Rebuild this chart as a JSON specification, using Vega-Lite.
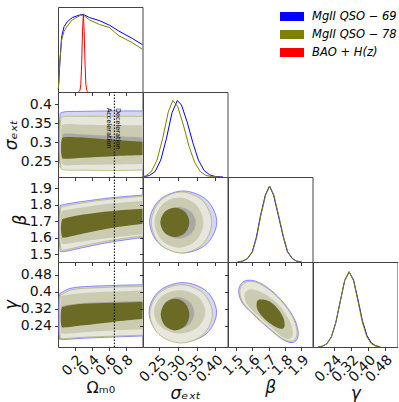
{
"$schema":"https://vega.github.io/schema/vega-lite/v6.json",
"padding":{"left":1,"top":6,"right":0,"bottom":0},
"bounds":"flush","spacing":0,"columns":4,
"config":{"view":{"stroke":"#444","strokeWidth":1},"axis":{"grid":false,"domain":false,"tickSize":3.5,"tickColor":"#222","tickWidth":0.9,"labelFont":"DejaVu Sans","labelFontSize":14,"labelColor":"#111","titleFont":"DejaVu Sans","titleFontSize":17,"titleFontWeight":"normal","titleColor":"#111","labelOverlap":false,"labelFlush":false,"labelBound":false,"labelPadding":3},"axisBottom":{"titlePadding":1,"labelPadding":2},"axisLeft":{"titlePadding":0}},
"datasets":{
"c":[
{"p":"A","l":1,"i":0,"x":0.06,"y":0.379},{"p":"A","l":1,"i":1,"x":0.3,"y":0.381},{"p":"A","l":1,"i":2,"x":0.65,"y":0.382},{"p":"A","l":1,"i":3,"x":1.15,"y":0.382},{"p":"A","l":1,"i":4,"x":1.3,"y":0.382},{"p":"A","l":1,"i":5,"x":1.3,"y":0.235},{"p":"A","l":1,"i":6,"x":1.15,"y":0.235},{"p":"A","l":1,"i":7,"x":0.65,"y":0.234},{"p":"A","l":1,"i":8,"x":0.3,"y":0.233},{"p":"A","l":1,"i":9,"x":0.06,"y":0.232},{"p":"A","l":1,"i":10,"x":0.022,"y":0.245},{"p":"A","l":1,"i":11,"x":0.014,"y":0.305},{"p":"A","l":1,"i":12,"x":0.022,"y":0.365},
{"p":"A","l":2,"i":0,"x":0.07,"y":0.367},{"p":"A","l":2,"i":1,"x":0.3,"y":0.368},{"p":"A","l":2,"i":2,"x":0.65,"y":0.368},{"p":"A","l":2,"i":3,"x":1.15,"y":0.368},{"p":"A","l":2,"i":4,"x":1.3,"y":0.368},{"p":"A","l":2,"i":5,"x":1.3,"y":0.227},{"p":"A","l":2,"i":6,"x":1.15,"y":0.227},{"p":"A","l":2,"i":7,"x":0.65,"y":0.225},{"p":"A","l":2,"i":8,"x":0.3,"y":0.226},{"p":"A","l":2,"i":9,"x":0.07,"y":0.227},{"p":"A","l":2,"i":10,"x":0.03,"y":0.24},{"p":"A","l":2,"i":11,"x":0.022,"y":0.298},{"p":"A","l":2,"i":12,"x":0.03,"y":0.355},
{"p":"A","l":3,"i":0,"x":0.08,"y":0.347},{"p":"A","l":3,"i":1,"x":0.3,"y":0.346},{"p":"A","l":3,"i":2,"x":0.65,"y":0.345},{"p":"A","l":3,"i":3,"x":1.15,"y":0.344},{"p":"A","l":3,"i":4,"x":1.3,"y":0.344},{"p":"A","l":3,"i":5,"x":1.3,"y":0.243},{"p":"A","l":3,"i":6,"x":1.15,"y":0.243},{"p":"A","l":3,"i":7,"x":0.65,"y":0.241},{"p":"A","l":3,"i":8,"x":0.3,"y":0.24},{"p":"A","l":3,"i":9,"x":0.08,"y":0.239},{"p":"A","l":3,"i":10,"x":0.04,"y":0.25},{"p":"A","l":3,"i":11,"x":0.03,"y":0.293},{"p":"A","l":3,"i":12,"x":0.04,"y":0.337},
{"p":"A","l":4,"i":0,"x":0.08,"y":0.322},{"p":"A","l":4,"i":1,"x":0.3,"y":0.32},{"p":"A","l":4,"i":2,"x":0.65,"y":0.316},{"p":"A","l":4,"i":3,"x":1.15,"y":0.311},{"p":"A","l":4,"i":4,"x":1.3,"y":0.31},{"p":"A","l":4,"i":5,"x":1.3,"y":0.28},{"p":"A","l":4,"i":6,"x":1.15,"y":0.28},{"p":"A","l":4,"i":7,"x":0.65,"y":0.28},{"p":"A","l":4,"i":8,"x":0.3,"y":0.28},{"p":"A","l":4,"i":9,"x":0.08,"y":0.28},{"p":"A","l":4,"i":10,"x":0.05,"y":0.29},{"p":"A","l":4,"i":11,"x":0.045,"y":0.3},{"p":"A","l":4,"i":12,"x":0.05,"y":0.312},
{"p":"A","l":5,"i":0,"x":0.08,"y":0.313},{"p":"A","l":5,"i":1,"x":0.3,"y":0.312},{"p":"A","l":5,"i":2,"x":0.65,"y":0.306},{"p":"A","l":5,"i":3,"x":1.15,"y":0.299},{"p":"A","l":5,"i":4,"x":1.3,"y":0.298},{"p":"A","l":5,"i":5,"x":1.3,"y":0.267},{"p":"A","l":5,"i":6,"x":1.15,"y":0.267},{"p":"A","l":5,"i":7,"x":0.65,"y":0.263},{"p":"A","l":5,"i":8,"x":0.3,"y":0.259},{"p":"A","l":5,"i":9,"x":0.08,"y":0.256},{"p":"A","l":5,"i":10,"x":0.045,"y":0.262},{"p":"A","l":5,"i":11,"x":0.035,"y":0.285},{"p":"A","l":5,"i":12,"x":0.045,"y":0.307},
{"p":"B","l":1,"i":0,"x":0.06,"y":1.8},{"p":"B","l":1,"i":1,"x":0.3,"y":1.82},{"p":"B","l":1,"i":2,"x":0.65,"y":1.843},{"p":"B","l":1,"i":3,"x":1.15,"y":1.865},{"p":"B","l":1,"i":4,"x":1.3,"y":1.87},{"p":"B","l":1,"i":5,"x":1.3,"y":1.615},{"p":"B","l":1,"i":6,"x":1.15,"y":1.61},{"p":"B","l":1,"i":7,"x":0.65,"y":1.575},{"p":"B","l":1,"i":8,"x":0.3,"y":1.54},{"p":"B","l":1,"i":9,"x":0.06,"y":1.515},{"p":"B","l":1,"i":10,"x":0.022,"y":1.535},{"p":"B","l":1,"i":11,"x":0.014,"y":1.66},{"p":"B","l":1,"i":12,"x":0.022,"y":1.78},
{"p":"B","l":2,"i":0,"x":0.07,"y":1.79},{"p":"B","l":2,"i":1,"x":0.3,"y":1.812},{"p":"B","l":2,"i":2,"x":0.65,"y":1.835},{"p":"B","l":2,"i":3,"x":1.15,"y":1.857},{"p":"B","l":2,"i":4,"x":1.3,"y":1.862},{"p":"B","l":2,"i":5,"x":1.3,"y":1.625},{"p":"B","l":2,"i":6,"x":1.15,"y":1.62},{"p":"B","l":2,"i":7,"x":0.65,"y":1.585},{"p":"B","l":2,"i":8,"x":0.3,"y":1.55},{"p":"B","l":2,"i":9,"x":0.07,"y":1.525},{"p":"B","l":2,"i":10,"x":0.03,"y":1.545},{"p":"B","l":2,"i":11,"x":0.022,"y":1.66},{"p":"B","l":2,"i":12,"x":0.03,"y":1.77},
{"p":"B","l":3,"i":0,"x":0.08,"y":1.766},{"p":"B","l":3,"i":1,"x":0.3,"y":1.785},{"p":"B","l":3,"i":2,"x":0.65,"y":1.808},{"p":"B","l":3,"i":3,"x":1.15,"y":1.83},{"p":"B","l":3,"i":4,"x":1.3,"y":1.835},{"p":"B","l":3,"i":5,"x":1.3,"y":1.635},{"p":"B","l":3,"i":6,"x":1.15,"y":1.628},{"p":"B","l":3,"i":7,"x":0.65,"y":1.6},{"p":"B","l":3,"i":8,"x":0.3,"y":1.578},{"p":"B","l":3,"i":9,"x":0.08,"y":1.562},{"p":"B","l":3,"i":10,"x":0.04,"y":1.58},{"p":"B","l":3,"i":11,"x":0.03,"y":1.665},{"p":"B","l":3,"i":12,"x":0.04,"y":1.75},
{"p":"B","l":5,"i":0,"x":0.08,"y":1.716},{"p":"B","l":5,"i":1,"x":0.3,"y":1.74},{"p":"B","l":5,"i":2,"x":0.65,"y":1.762},{"p":"B","l":5,"i":3,"x":1.15,"y":1.78},{"p":"B","l":5,"i":4,"x":1.3,"y":1.785},{"p":"B","l":5,"i":5,"x":1.3,"y":1.7},{"p":"B","l":5,"i":6,"x":1.15,"y":1.693},{"p":"B","l":5,"i":7,"x":0.65,"y":1.66},{"p":"B","l":5,"i":8,"x":0.3,"y":1.625},{"p":"B","l":5,"i":9,"x":0.08,"y":1.6},{"p":"B","l":5,"i":10,"x":0.045,"y":1.612},{"p":"B","l":5,"i":11,"x":0.035,"y":1.66},{"p":"B","l":5,"i":12,"x":0.045,"y":1.703},
{"p":"C","l":1,"i":0,"x":0.05,"y":0.398},{"p":"C","l":1,"i":1,"x":0.2,"y":0.42},{"p":"C","l":1,"i":2,"x":0.6,"y":0.429},{"p":"C","l":1,"i":3,"x":1.15,"y":0.434},{"p":"C","l":1,"i":4,"x":1.3,"y":0.435},{"p":"C","l":1,"i":5,"x":1.3,"y":0.196},{"p":"C","l":1,"i":6,"x":1.15,"y":0.194},{"p":"C","l":1,"i":7,"x":0.65,"y":0.187},{"p":"C","l":1,"i":8,"x":0.3,"y":0.181},{"p":"C","l":1,"i":9,"x":0.05,"y":0.176},{"p":"C","l":1,"i":10,"x":0.016,"y":0.19},{"p":"C","l":1,"i":11,"x":0.01,"y":0.29},{"p":"C","l":1,"i":12,"x":0.016,"y":0.38},
{"p":"C","l":2,"i":0,"x":0.06,"y":0.39},{"p":"C","l":2,"i":1,"x":0.2,"y":0.412},{"p":"C","l":2,"i":2,"x":0.6,"y":0.421},{"p":"C","l":2,"i":3,"x":1.15,"y":0.426},{"p":"C","l":2,"i":4,"x":1.3,"y":0.427},{"p":"C","l":2,"i":5,"x":1.3,"y":0.2},{"p":"C","l":2,"i":6,"x":1.15,"y":0.198},{"p":"C","l":2,"i":7,"x":0.65,"y":0.191},{"p":"C","l":2,"i":8,"x":0.3,"y":0.186},{"p":"C","l":2,"i":9,"x":0.06,"y":0.18},{"p":"C","l":2,"i":10,"x":0.025,"y":0.195},{"p":"C","l":2,"i":11,"x":0.018,"y":0.29},{"p":"C","l":2,"i":12,"x":0.025,"y":0.375},
{"p":"C","l":3,"i":0,"x":0.07,"y":0.382},{"p":"C","l":3,"i":1,"x":0.3,"y":0.394},{"p":"C","l":3,"i":2,"x":0.65,"y":0.401},{"p":"C","l":3,"i":3,"x":1.15,"y":0.408},{"p":"C","l":3,"i":4,"x":1.3,"y":0.41},{"p":"C","l":3,"i":5,"x":1.3,"y":0.228},{"p":"C","l":3,"i":6,"x":1.15,"y":0.226},{"p":"C","l":3,"i":7,"x":0.65,"y":0.218},{"p":"C","l":3,"i":8,"x":0.3,"y":0.21},{"p":"C","l":3,"i":9,"x":0.07,"y":0.203},{"p":"C","l":3,"i":10,"x":0.035,"y":0.215},{"p":"C","l":3,"i":11,"x":0.028,"y":0.29},{"p":"C","l":3,"i":12,"x":0.035,"y":0.37},
{"p":"C","l":4,"i":0,"x":0.07,"y":0.335},{"p":"C","l":4,"i":1,"x":0.3,"y":0.347},{"p":"C","l":4,"i":2,"x":0.65,"y":0.353},{"p":"C","l":4,"i":3,"x":1.15,"y":0.36},{"p":"C","l":4,"i":4,"x":1.3,"y":0.362},{"p":"C","l":4,"i":5,"x":1.3,"y":0.31},{"p":"C","l":4,"i":6,"x":1.15,"y":0.31},{"p":"C","l":4,"i":7,"x":0.65,"y":0.3},{"p":"C","l":4,"i":8,"x":0.3,"y":0.29},{"p":"C","l":4,"i":9,"x":0.07,"y":0.28},{"p":"C","l":4,"i":10,"x":0.045,"y":0.29},{"p":"C","l":4,"i":11,"x":0.04,"y":0.31},{"p":"C","l":4,"i":12,"x":0.045,"y":0.325},
{"p":"C","l":5,"i":0,"x":0.07,"y":0.33},{"p":"C","l":5,"i":1,"x":0.3,"y":0.343},{"p":"C","l":5,"i":2,"x":0.65,"y":0.348},{"p":"C","l":5,"i":3,"x":1.15,"y":0.354},{"p":"C","l":5,"i":4,"x":1.3,"y":0.356},{"p":"C","l":5,"i":5,"x":1.3,"y":0.282},{"p":"C","l":5,"i":6,"x":1.15,"y":0.278},{"p":"C","l":5,"i":7,"x":0.65,"y":0.258},{"p":"C","l":5,"i":8,"x":0.3,"y":0.242},{"p":"C","l":5,"i":9,"x":0.07,"y":0.232},{"p":"C","l":5,"i":10,"x":0.04,"y":0.24},{"p":"C","l":5,"i":11,"x":0.032,"y":0.28},{"p":"C","l":5,"i":12,"x":0.04,"y":0.318},
{"p":"D","l":1,"i":0,"x":0.4035,"y":1.695},{"p":"D","l":1,"i":1,"x":0.377,"y":1.828},{"p":"D","l":1,"i":2,"x":0.3145,"y":1.883},{"p":"D","l":1,"i":3,"x":0.2515,"y":1.828},{"p":"D","l":1,"i":4,"x":0.2255,"y":1.695},{"p":"D","l":1,"i":5,"x":0.2515,"y":1.562},{"p":"D","l":1,"i":6,"x":0.3145,"y":1.507},{"p":"D","l":1,"i":7,"x":0.377,"y":1.562},
{"p":"D","l":2,"i":0,"x":0.39,"y":1.692},{"p":"D","l":2,"i":1,"x":0.3666,"y":1.8228},{"p":"D","l":2,"i":2,"x":0.31,"y":1.877},{"p":"D","l":2,"i":3,"x":0.2534,"y":1.8228},{"p":"D","l":2,"i":4,"x":0.23,"y":1.692},{"p":"D","l":2,"i":5,"x":0.2534,"y":1.5612},{"p":"D","l":2,"i":6,"x":0.31,"y":1.507},{"p":"D","l":2,"i":7,"x":0.3666,"y":1.5612},
{"p":"D","l":3,"i":0,"x":0.368,"y":1.691},{"p":"D","l":3,"i":1,"x":0.3491,"y":1.7985},{"p":"D","l":3,"i":2,"x":0.3035,"y":1.843},{"p":"D","l":3,"i":3,"x":0.2579,"y":1.7985},{"p":"D","l":3,"i":4,"x":0.239,"y":1.691},{"p":"D","l":3,"i":5,"x":0.2579,"y":1.5835},{"p":"D","l":3,"i":6,"x":0.3035,"y":1.539},{"p":"D","l":3,"i":7,"x":0.3491,"y":1.5835},
{"p":"D","l":4,"i":0,"x":0.348,"y":1.69},{"p":"D","l":4,"i":1,"x":0.3345,"y":1.7579},{"p":"D","l":4,"i":2,"x":0.302,"y":1.786},{"p":"D","l":4,"i":3,"x":0.2695,"y":1.7579},{"p":"D","l":4,"i":4,"x":0.256,"y":1.69},{"p":"D","l":4,"i":5,"x":0.2695,"y":1.6221},{"p":"D","l":4,"i":6,"x":0.302,"y":1.594},{"p":"D","l":4,"i":7,"x":0.3345,"y":1.6221},
{"p":"D","l":5,"i":0,"x":0.331,"y":1.693},{"p":"D","l":5,"i":1,"x":0.3197,"y":1.7559},{"p":"D","l":5,"i":2,"x":0.2925,"y":1.782},{"p":"D","l":5,"i":3,"x":0.2653,"y":1.7559},{"p":"D","l":5,"i":4,"x":0.254,"y":1.693},{"p":"D","l":5,"i":5,"x":0.2653,"y":1.6301},{"p":"D","l":5,"i":6,"x":0.2925,"y":1.604},{"p":"D","l":5,"i":7,"x":0.3197,"y":1.6301},
{"p":"E","l":1,"i":0,"x":0.403,"y":0.303},{"p":"E","l":1,"i":1,"x":0.3768,"y":0.402},{"p":"E","l":1,"i":2,"x":0.3135,"y":0.443},{"p":"E","l":1,"i":3,"x":0.2502,"y":0.402},{"p":"E","l":1,"i":4,"x":0.224,"y":0.303},{"p":"E","l":1,"i":5,"x":0.2502,"y":0.204},{"p":"E","l":1,"i":6,"x":0.3135,"y":0.163},{"p":"E","l":1,"i":7,"x":0.3768,"y":0.204},
{"p":"E","l":2,"i":0,"x":0.392,"y":0.296},{"p":"E","l":2,"i":1,"x":0.3677,"y":0.3929},{"p":"E","l":2,"i":2,"x":0.309,"y":0.433},{"p":"E","l":2,"i":3,"x":0.2503,"y":0.3929},{"p":"E","l":2,"i":4,"x":0.226,"y":0.296},{"p":"E","l":2,"i":5,"x":0.2503,"y":0.1991},{"p":"E","l":2,"i":6,"x":0.309,"y":0.159},{"p":"E","l":2,"i":7,"x":0.3677,"y":0.1991},
{"p":"E","l":3,"i":0,"x":0.373,"y":0.305},{"p":"E","l":3,"i":1,"x":0.3531,"y":0.3771},{"p":"E","l":3,"i":2,"x":0.305,"y":0.407},{"p":"E","l":3,"i":3,"x":0.2569,"y":0.3771},{"p":"E","l":3,"i":4,"x":0.237,"y":0.305},{"p":"E","l":3,"i":5,"x":0.2569,"y":0.2329},{"p":"E","l":3,"i":6,"x":0.305,"y":0.203},{"p":"E","l":3,"i":7,"x":0.3531,"y":0.2329},
{"p":"E","l":4,"i":0,"x":0.344,"y":0.3},{"p":"E","l":4,"i":1,"x":0.3311,"y":0.3527},{"p":"E","l":4,"i":2,"x":0.3,"y":0.3745},{"p":"E","l":4,"i":3,"x":0.2689,"y":0.3527},{"p":"E","l":4,"i":4,"x":0.256,"y":0.3},{"p":"E","l":4,"i":5,"x":0.2689,"y":0.2473},{"p":"E","l":4,"i":6,"x":0.3,"y":0.2255},{"p":"E","l":4,"i":7,"x":0.3311,"y":0.2473},
{"p":"E","l":5,"i":0,"x":0.331,"y":0.2925},{"p":"E","l":5,"i":1,"x":0.3199,"y":0.3452},{"p":"E","l":5,"i":2,"x":0.293,"y":0.367},{"p":"E","l":5,"i":3,"x":0.2661,"y":0.3452},{"p":"E","l":5,"i":4,"x":0.255,"y":0.2925},{"p":"E","l":5,"i":5,"x":0.2661,"y":0.2398},{"p":"E","l":5,"i":6,"x":0.293,"y":0.218},{"p":"E","l":5,"i":7,"x":0.3199,"y":0.2398},
{"p":"F","l":1,"i":0,"x":1.573,"y":0.454},{"p":"F","l":1,"i":1,"x":1.634,"y":0.446},{"p":"F","l":1,"i":2,"x":1.715,"y":0.407},{"p":"F","l":1,"i":3,"x":1.796,"y":0.344},{"p":"F","l":1,"i":4,"x":1.857,"y":0.273},{"p":"F","l":1,"i":5,"x":1.881,"y":0.203},{"p":"F","l":1,"i":6,"x":1.857,"y":0.163},{"p":"F","l":1,"i":7,"x":1.796,"y":0.171},{"p":"F","l":1,"i":8,"x":1.715,"y":0.218},{"p":"F","l":1,"i":9,"x":1.624,"y":0.281},{"p":"F","l":1,"i":10,"x":1.543,"y":0.344},{"p":"F","l":1,"i":11,"x":1.517,"y":0.399},{"p":"F","l":1,"i":12,"x":1.533,"y":0.438},
{"p":"F","l":2,"i":0,"x":1.578,"y":0.448},{"p":"F","l":2,"i":1,"x":1.636,"y":0.441},{"p":"F","l":2,"i":2,"x":1.714,"y":0.403},{"p":"F","l":2,"i":3,"x":1.792,"y":0.343},{"p":"F","l":2,"i":4,"x":1.851,"y":0.274},{"p":"F","l":2,"i":5,"x":1.874,"y":0.207},{"p":"F","l":2,"i":6,"x":1.851,"y":0.169},{"p":"F","l":2,"i":7,"x":1.792,"y":0.176},{"p":"F","l":2,"i":8,"x":1.714,"y":0.222},{"p":"F","l":2,"i":9,"x":1.627,"y":0.282},{"p":"F","l":2,"i":10,"x":1.549,"y":0.343},{"p":"F","l":2,"i":11,"x":1.524,"y":0.395},{"p":"F","l":2,"i":12,"x":1.54,"y":0.433},
{"p":"F","l":3,"i":0,"x":1.604,"y":0.411},{"p":"F","l":3,"i":1,"x":1.675,"y":0.391},{"p":"F","l":3,"i":2,"x":1.756,"y":0.344},{"p":"F","l":3,"i":3,"x":1.816,"y":0.281},{"p":"F","l":3,"i":4,"x":1.847,"y":0.218},{"p":"F","l":3,"i":5,"x":1.837,"y":0.182},{"p":"F","l":3,"i":6,"x":1.796,"y":0.182},{"p":"F","l":3,"i":7,"x":1.725,"y":0.226},{"p":"F","l":3,"i":8,"x":1.644,"y":0.281},{"p":"F","l":3,"i":9,"x":1.573,"y":0.336},{"p":"F","l":3,"i":10,"x":1.553,"y":0.375},{"p":"F","l":3,"i":11,"x":1.563,"y":0.402},
{"p":"F","l":5,"i":0,"x":1.654,"y":0.364},{"p":"F","l":5,"i":1,"x":1.705,"y":0.355},{"p":"F","l":5,"i":2,"x":1.756,"y":0.32},{"p":"F","l":5,"i":3,"x":1.792,"y":0.273},{"p":"F","l":5,"i":4,"x":1.796,"y":0.234},{"p":"F","l":5,"i":5,"x":1.772,"y":0.226},{"p":"F","l":5,"i":6,"x":1.725,"y":0.242},{"p":"F","l":5,"i":7,"x":1.664,"y":0.281},{"p":"F","l":5,"i":8,"x":1.63,"y":0.32},{"p":"F","l":5,"i":9,"x":1.63,"y":0.355}
],
"d":[
{"p":"O","s":"MgII QSO − 69","x":0.004,"y":0.026},{"p":"O","s":"MgII QSO − 69","x":0.024,"y":0.41},{"p":"O","s":"MgII QSO − 69","x":0.043,"y":0.71},{"p":"O","s":"MgII QSO − 69","x":0.071,"y":0.84},{"p":"O","s":"MgII QSO − 69","x":0.11,"y":0.905},{"p":"O","s":"MgII QSO − 69","x":0.17,"y":0.96},{"p":"O","s":"MgII QSO − 69","x":0.25,"y":0.99},{"p":"O","s":"MgII QSO − 69","x":0.3,"y":1.0},{"p":"O","s":"MgII QSO − 69","x":0.37,"y":0.96},{"p":"O","s":"MgII QSO − 69","x":0.49,"y":0.92},{"p":"O","s":"MgII QSO − 69","x":0.61,"y":0.86},{"p":"O","s":"MgII QSO − 69","x":0.72,"y":0.785},{"p":"O","s":"MgII QSO − 69","x":0.88,"y":0.69},{"p":"O","s":"MgII QSO − 69","x":1.0,"y":0.61},
{"p":"O","s":"MgII QSO − 78","x":0.004,"y":0.04},{"p":"O","s":"MgII QSO − 78","x":0.02,"y":0.37},{"p":"O","s":"MgII QSO − 78","x":0.043,"y":0.67},{"p":"O","s":"MgII QSO − 78","x":0.071,"y":0.78},{"p":"O","s":"MgII QSO − 78","x":0.11,"y":0.85},{"p":"O","s":"MgII QSO − 78","x":0.17,"y":0.93},{"p":"O","s":"MgII QSO − 78","x":0.27,"y":0.99},{"p":"O","s":"MgII QSO − 78","x":0.3,"y":0.99},{"p":"O","s":"MgII QSO − 78","x":0.37,"y":0.93},{"p":"O","s":"MgII QSO − 78","x":0.49,"y":0.87},{"p":"O","s":"MgII QSO − 78","x":0.61,"y":0.83},{"p":"O","s":"MgII QSO − 78","x":0.67,"y":0.77},{"p":"O","s":"MgII QSO − 78","x":0.72,"y":0.725},{"p":"O","s":"MgII QSO − 78","x":0.88,"y":0.635},{"p":"O","s":"MgII QSO − 78","x":1.0,"y":0.55},
{"p":"O","s":"BAO + H(z)","x":0.24,"y":0},{"p":"O","s":"BAO + H(z)","x":0.26,"y":0.02},{"p":"O","s":"BAO + H(z)","x":0.27,"y":0.1},{"p":"O","s":"BAO + H(z)","x":0.28,"y":0.36},{"p":"O","s":"BAO + H(z)","x":0.29,"y":0.775},{"p":"O","s":"BAO + H(z)","x":0.3,"y":1.0},{"p":"O","s":"BAO + H(z)","x":0.31,"y":0.775},{"p":"O","s":"BAO + H(z)","x":0.32,"y":0.36},{"p":"O","s":"BAO + H(z)","x":0.33,"y":0.1},{"p":"O","s":"BAO + H(z)","x":0.34,"y":0.02},{"p":"O","s":"BAO + H(z)","x":0.36,"y":0},
{"p":"S","s":"MgII QSO − 69","x":0.21,"y":0.003},{"p":"S","s":"MgII QSO − 69","x":0.225,"y":0.02},{"p":"S","s":"MgII QSO − 69","x":0.24,"y":0.07},{"p":"S","s":"MgII QSO − 69","x":0.255,"y":0.22},{"p":"S","s":"MgII QSO − 69","x":0.27,"y":0.5},{"p":"S","s":"MgII QSO − 69","x":0.285,"y":0.84},{"p":"S","s":"MgII QSO − 69","x":0.299,"y":1.0},{"p":"S","s":"MgII QSO − 69","x":0.31,"y":0.94},{"p":"S","s":"MgII QSO − 69","x":0.325,"y":0.72},{"p":"S","s":"MgII QSO − 69","x":0.34,"y":0.45},{"p":"S","s":"MgII QSO − 69","x":0.355,"y":0.22},{"p":"S","s":"MgII QSO − 69","x":0.37,"y":0.085},{"p":"S","s":"MgII QSO − 69","x":0.385,"y":0.027},{"p":"S","s":"MgII QSO − 69","x":0.4,"y":0.006},{"p":"S","s":"MgII QSO − 69","x":0.42,"y":0},
{"p":"S","s":"MgII QSO − 78","x":0.205,"y":0.004},{"p":"S","s":"MgII QSO − 78","x":0.215,"y":0.015},{"p":"S","s":"MgII QSO − 78","x":0.23,"y":0.07},{"p":"S","s":"MgII QSO − 78","x":0.245,"y":0.22},{"p":"S","s":"MgII QSO − 78","x":0.26,"y":0.5},{"p":"S","s":"MgII QSO − 78","x":0.275,"y":0.85},{"p":"S","s":"MgII QSO − 78","x":0.287,"y":1.0},{"p":"S","s":"MgII QSO − 78","x":0.3,"y":0.92},{"p":"S","s":"MgII QSO − 78","x":0.315,"y":0.68},{"p":"S","s":"MgII QSO − 78","x":0.33,"y":0.4},{"p":"S","s":"MgII QSO − 78","x":0.345,"y":0.19},{"p":"S","s":"MgII QSO − 78","x":0.36,"y":0.07},{"p":"S","s":"MgII QSO − 78","x":0.375,"y":0.02},{"p":"S","s":"MgII QSO − 78","x":0.39,"y":0.005},{"p":"S","s":"MgII QSO − 78","x":0.41,"y":0},
{"p":"B","s":"MgII QSO − 69","x":1.51,"y":0.002},{"p":"B","s":"MgII QSO − 69","x":1.54,"y":0.011},{"p":"B","s":"MgII QSO − 69","x":1.57,"y":0.044},{"p":"B","s":"MgII QSO − 69","x":1.6,"y":0.135},{"p":"B","s":"MgII QSO − 69","x":1.625,"y":0.325},{"p":"B","s":"MgII QSO − 69","x":1.65,"y":0.607},{"p":"B","s":"MgII QSO − 69","x":1.68,"y":0.883},{"p":"B","s":"MgII QSO − 69","x":1.705,"y":1.0},{"p":"B","s":"MgII QSO − 69","x":1.73,"y":0.883},{"p":"B","s":"MgII QSO − 69","x":1.76,"y":0.607},{"p":"B","s":"MgII QSO − 69","x":1.79,"y":0.325},{"p":"B","s":"MgII QSO − 69","x":1.815,"y":0.135},{"p":"B","s":"MgII QSO − 69","x":1.845,"y":0.044},{"p":"B","s":"MgII QSO − 69","x":1.87,"y":0.011},{"p":"B","s":"MgII QSO − 69","x":1.9,"y":0.002},
{"p":"B","s":"MgII QSO − 78","x":1.512,"y":0.002},{"p":"B","s":"MgII QSO − 78","x":1.542,"y":0.011},{"p":"B","s":"MgII QSO − 78","x":1.572,"y":0.044},{"p":"B","s":"MgII QSO − 78","x":1.602,"y":0.135},{"p":"B","s":"MgII QSO − 78","x":1.627,"y":0.325},{"p":"B","s":"MgII QSO − 78","x":1.652,"y":0.607},{"p":"B","s":"MgII QSO − 78","x":1.682,"y":0.883},{"p":"B","s":"MgII QSO − 78","x":1.707,"y":1.0},{"p":"B","s":"MgII QSO − 78","x":1.732,"y":0.883},{"p":"B","s":"MgII QSO − 78","x":1.762,"y":0.607},{"p":"B","s":"MgII QSO − 78","x":1.792,"y":0.325},{"p":"B","s":"MgII QSO − 78","x":1.817,"y":0.135},{"p":"B","s":"MgII QSO − 78","x":1.847,"y":0.044},{"p":"B","s":"MgII QSO − 78","x":1.872,"y":0.011},{"p":"B","s":"MgII QSO − 78","x":1.902,"y":0.002},
{"p":"G","s":"MgII QSO − 69","x":0.164,"y":0.002},{"p":"G","s":"MgII QSO − 69","x":0.185,"y":0.011},{"p":"G","s":"MgII QSO − 69","x":0.206,"y":0.044},{"p":"G","s":"MgII QSO − 69","x":0.227,"y":0.135},{"p":"G","s":"MgII QSO − 69","x":0.248,"y":0.325},{"p":"G","s":"MgII QSO − 69","x":0.269,"y":0.607},{"p":"G","s":"MgII QSO − 69","x":0.29,"y":0.883},{"p":"G","s":"MgII QSO − 69","x":0.311,"y":1.0},{"p":"G","s":"MgII QSO − 69","x":0.332,"y":0.89},{"p":"G","s":"MgII QSO − 69","x":0.353,"y":0.63},{"p":"G","s":"MgII QSO − 69","x":0.374,"y":0.35},{"p":"G","s":"MgII QSO − 69","x":0.395,"y":0.155},{"p":"G","s":"MgII QSO − 69","x":0.416,"y":0.055},{"p":"G","s":"MgII QSO − 69","x":0.437,"y":0.016},{"p":"G","s":"MgII QSO − 69","x":0.458,"y":0.004},
{"p":"G","s":"MgII QSO − 78","x":0.164,"y":0.002},{"p":"G","s":"MgII QSO − 78","x":0.185,"y":0.011},{"p":"G","s":"MgII QSO − 78","x":0.206,"y":0.044},{"p":"G","s":"MgII QSO − 78","x":0.227,"y":0.135},{"p":"G","s":"MgII QSO − 78","x":0.248,"y":0.325},{"p":"G","s":"MgII QSO − 78","x":0.269,"y":0.607},{"p":"G","s":"MgII QSO − 78","x":0.29,"y":0.883},{"p":"G","s":"MgII QSO − 78","x":0.311,"y":1.0},{"p":"G","s":"MgII QSO − 78","x":0.332,"y":0.883},{"p":"G","s":"MgII QSO − 78","x":0.353,"y":0.607},{"p":"G","s":"MgII QSO − 78","x":0.374,"y":0.325},{"p":"G","s":"MgII QSO − 78","x":0.395,"y":0.135},{"p":"G","s":"MgII QSO − 78","x":0.416,"y":0.044},{"p":"G","s":"MgII QSO − 78","x":0.437,"y":0.011},{"p":"G","s":"MgII QSO − 78","x":0.458,"y":0.002}
],
"v":[{"p":"A","x":0.667,"y":0.208,"y2":0.432},{"p":"B","x":0.667,"y":1.452,"y2":1.968},{"p":"C","x":0.667,"y":0.14,"y2":0.54}],
"t":[{"x":0.6,"y":0.39,"t":"Acceleration"},{"x":0.705,"y":0.39,"t":"Deceleration"}],
"e":[{"z":0}]
},
"concat":[
{"width":84.5,"height":85,"data":{"name":"d"},"transform":[{"filter":"datum.p=='O'"}],"mark":{"type":"line","strokeWidth":1},
 "encoding":{"x":{"field":"x","type":"quantitative","scale":{"domain":[0,1],"nice":false,"zero":false},"axis":{"values":[0.2,0.4,0.6,0.8],"labels":false,"title":null}},
 "y":{"field":"y","type":"quantitative","scale":{"domain":[0,1.095],"nice":false},"axis":null},
 "color":{"field":"s","type":"nominal","scale":{"domain":["MgII QSO − 69","MgII QSO − 78","BAO + H(z)"],"range":["#0000ff","#808000","#ff0000"]},
  "legend":{"orient":"none","legendX":222,"legendY":3,"title":null,"symbolType":"M-2,0H2","symbolSize":169,"symbolStrokeWidth":9,"clipHeight":13,"labelFontSize":11.5,"labelFontStyle":"italic","labelFont":"DejaVu Sans","labelOffset":10,"rowPadding":5,"labelColor":"#000"}}}},
{"width":84.5,"height":85,"view":{"stroke":null},"data":{"name":"e"},"mark":{"type":"point","opacity":0},"encoding":{}},
{"width":84.5,"height":85,"view":{"stroke":null},"data":{"name":"e"},"mark":{"type":"point","opacity":0},"encoding":{}},
{"width":84.5,"height":85,"view":{"stroke":null},"data":{"name":"e"},"mark":{"type":"point","opacity":0},"encoding":{}},
{"width":84.5,"height":85,
 "encoding":{"x":{"field":"x","type":"quantitative","scale":{"domain":[0,1],"nice":false,"zero":false},"axis":{"values":[0.2,0.4,0.6,0.8],"labels":false,"title":null}},
   "y":{"field":"y","type":"quantitative","scale":{"domain":[0.208,0.432],"nice":false,"zero":false},"axis":{"values":[0.25,0.3,0.35,0.4],"format":".2~g","labelOverlap":false,"title":"σₑₓₜ","titleFontStyle":"italic"}}},
 "layer":[
  {"data":{"name":"c"},"transform":[{"filter":"datum.p=='A'"}],"mark":{"type":"line","interpolate":"cardinal-closed","clip":true,"strokeWidth":0.8},
   "encoding":{"detail":{"field":"l"},"order":{"field":"i","type":"quantitative"},
   "fill":{"field":"l","type":"nominal","scale":{"domain":[1,2,3,4,5],"range":["#d5d5f6","#e6e6dc","#cbcbb2","#a9a9a4","#6b6b26"]},"legend":null},
   "stroke":{"field":"l","type":"nominal","scale":{"domain":[1,2,3,4,5],"range":["#6f6fff","#b5b570","transparent","transparent","transparent"]},"legend":null}}},
  {"data":{"name":"v"},"transform":[{"filter":"datum.p=='A'"}],"mark":{"type":"rule","strokeDash":[1.5,1.5],"color":"#000","strokeWidth":1},"encoding":{"y2":{"field":"y2"}}},
  {"data":{"name":"t"},"mark":{"type":"text","angle":90,"align":"left","baseline":"middle","fontSize":6.5,"font":"DejaVu Sans","color":"#000"},"encoding":{"text":{"field":"t"}}}
 ]},
{"width":84.5,"height":85,"data":{"name":"d"},"transform":[{"filter":"datum.p=='S'"}],"mark":{"type":"line","strokeWidth":1},
  "encoding":{"x":{"field":"x","type":"quantitative","scale":{"domain":[0.208,0.432],"nice":false,"zero":false},"axis":{"values":[0.25,0.3,0.35,0.4],"labels":false,"title":null}},
  "y":{"field":"y","type":"quantitative","scale":{"domain":[0,1.11],"nice":false},"axis":null},
  "color":{"field":"s","type":"nominal"}}},
{"width":84.5,"height":85,"view":{"stroke":null},"data":{"name":"e"},"mark":{"type":"point","opacity":0},"encoding":{}},
{"width":84.5,"height":85,"view":{"stroke":null},"data":{"name":"e"},"mark":{"type":"point","opacity":0},"encoding":{}},
{"width":84.5,"height":85,
 "encoding":{"x":{"field":"x","type":"quantitative","scale":{"domain":[0,1],"nice":false,"zero":false},"axis":{"values":[0.2,0.4,0.6,0.8],"labels":false,"title":null}},
   "y":{"field":"y","type":"quantitative","scale":{"domain":[1.452,1.968],"nice":false,"zero":false},"axis":{"values":[1.5,1.6,1.7,1.8,1.9],"format":".1f","labelOverlap":false,"title":"β","titleFontStyle":"italic"}}},
 "layer":[
  {"data":{"name":"c"},"transform":[{"filter":"datum.p=='B'"}],"mark":{"type":"line","interpolate":"cardinal-closed","clip":true,"strokeWidth":0.8},
   "encoding":{"detail":{"field":"l"},"order":{"field":"i","type":"quantitative"},
   "fill":{"field":"l","type":"nominal","legend":null},"stroke":{"field":"l","type":"nominal","legend":null}}},
  {"data":{"name":"v"},"transform":[{"filter":"datum.p=='B'"}],"mark":{"type":"rule","strokeDash":[1.5,1.5],"color":"#000","strokeWidth":1},"encoding":{"y2":{"field":"y2"}}}
 ]},
{"width":84.5,"height":85,"data":{"name":"c"},"transform":[{"filter":"datum.p=='D'"}],"mark":{"type":"line","interpolate":"cardinal-closed","clip":true,"strokeWidth":0.8},
  "encoding":{"x":{"field":"x","type":"quantitative","scale":{"domain":[0.208,0.432],"nice":false,"zero":false},"axis":{"values":[0.25,0.3,0.35,0.4],"labels":false,"title":null}},
  "y":{"field":"y","type":"quantitative","scale":{"domain":[1.452,1.968],"nice":false,"zero":false},"axis":{"values":[1.5,1.6,1.7,1.8,1.9],"labels":false,"title":null}},
  "detail":{"field":"l"},"order":{"field":"i","type":"quantitative"},
  "fill":{"field":"l","type":"nominal","legend":null},"stroke":{"field":"l","type":"nominal","legend":null}}},
{"width":84.5,"height":85,"data":{"name":"d"},"transform":[{"filter":"datum.p=='B'"}],"mark":{"type":"line","strokeWidth":1},
  "encoding":{"x":{"field":"x","type":"quantitative","scale":{"domain":[1.452,1.968],"nice":false,"zero":false},"axis":{"values":[1.5,1.6,1.7,1.8,1.9],"labels":false,"title":null}},
  "y":{"field":"y","type":"quantitative","scale":{"domain":[0,1.12],"nice":false},"axis":null},
  "color":{"field":"s","type":"nominal"}}},
{"width":84.5,"height":85,"view":{"stroke":null},"data":{"name":"e"},"mark":{"type":"point","opacity":0},"encoding":{}},
{"width":84.5,"height":85,
 "encoding":{"x":{"field":"x","type":"quantitative","scale":{"domain":[0,1],"nice":false,"zero":false},"axis":{"values":[0.2,0.4,0.6,0.8],"format":".1f","labelOverlap":false,"labelAngle":-45,"labelAlign":"right","labelBaseline":"top","title":"Ωₘ₀","titleFontSize":16}},
   "y":{"field":"y","type":"quantitative","scale":{"domain":[0.14,0.54],"nice":false,"zero":false},"axis":{"values":[0.24,0.32,0.4,0.48],"format":".2~g","labelOverlap":false,"title":"γ","titleFontStyle":"italic"}}},
 "layer":[
  {"data":{"name":"c"},"transform":[{"filter":"datum.p=='C'"}],"mark":{"type":"line","interpolate":"cardinal-closed","clip":true,"strokeWidth":0.8},
   "encoding":{"detail":{"field":"l"},"order":{"field":"i","type":"quantitative"},
   "fill":{"field":"l","type":"nominal","legend":null},"stroke":{"field":"l","type":"nominal","legend":null}}},
  {"data":{"name":"v"},"transform":[{"filter":"datum.p=='C'"}],"mark":{"type":"rule","strokeDash":[1.5,1.5],"color":"#000","strokeWidth":1},"encoding":{"y2":{"field":"y2"}}}
 ]},
{"width":84.5,"height":85,"data":{"name":"c"},"transform":[{"filter":"datum.p=='E'"}],"mark":{"type":"line","interpolate":"cardinal-closed","clip":true,"strokeWidth":0.8},
  "encoding":{"x":{"field":"x","type":"quantitative","scale":{"domain":[0.208,0.432],"nice":false,"zero":false},"axis":{"values":[0.25,0.3,0.35,0.4],"format":".2f","labelAngle":-45,"labelAlign":"right","labelBaseline":"top","title":"σₑₓₜ","titleFontStyle":"italic"}},
  "y":{"field":"y","type":"quantitative","scale":{"domain":[0.14,0.54],"nice":false,"zero":false},"axis":{"values":[0.24,0.32,0.4,0.48],"labels":false,"title":null}},
  "detail":{"field":"l"},"order":{"field":"i","type":"quantitative"},
  "fill":{"field":"l","type":"nominal","legend":null},"stroke":{"field":"l","type":"nominal","legend":null}}},
{"width":84.5,"height":85,"data":{"name":"c"},"transform":[{"filter":"datum.p=='F'"}],"mark":{"type":"line","interpolate":"cardinal-closed","clip":true,"strokeWidth":0.8},
  "encoding":{"x":{"field":"x","type":"quantitative","scale":{"domain":[1.452,1.968],"nice":false,"zero":false},"axis":{"values":[1.5,1.6,1.7,1.8,1.9],"format":".1f","labelAngle":-45,"labelAlign":"right","labelBaseline":"top","title":"β","titleFontStyle":"italic"}},
  "y":{"field":"y","type":"quantitative","scale":{"domain":[0.14,0.54],"nice":false,"zero":false},"axis":{"values":[0.24,0.32,0.4,0.48],"labels":false,"title":null}},
  "detail":{"field":"l"},"order":{"field":"i","type":"quantitative"},
  "fill":{"field":"l","type":"nominal","legend":null},"stroke":{"field":"l","type":"nominal","legend":null}}},
{"width":84.5,"height":85,"data":{"name":"d"},"transform":[{"filter":"datum.p=='G'"}],"mark":{"type":"line","strokeWidth":1},
  "encoding":{"x":{"field":"x","type":"quantitative","scale":{"domain":[0.14,0.54],"nice":false,"zero":false},"axis":{"values":[0.24,0.32,0.4,0.48],"format":".2f","labelAngle":-45,"labelAlign":"right","labelBaseline":"top","title":"γ","titleFontStyle":"italic"}},
  "y":{"field":"y","type":"quantitative","scale":{"domain":[0,1.13],"nice":false},"axis":null},
  "color":{"field":"s","type":"nominal"}}}
]
}
